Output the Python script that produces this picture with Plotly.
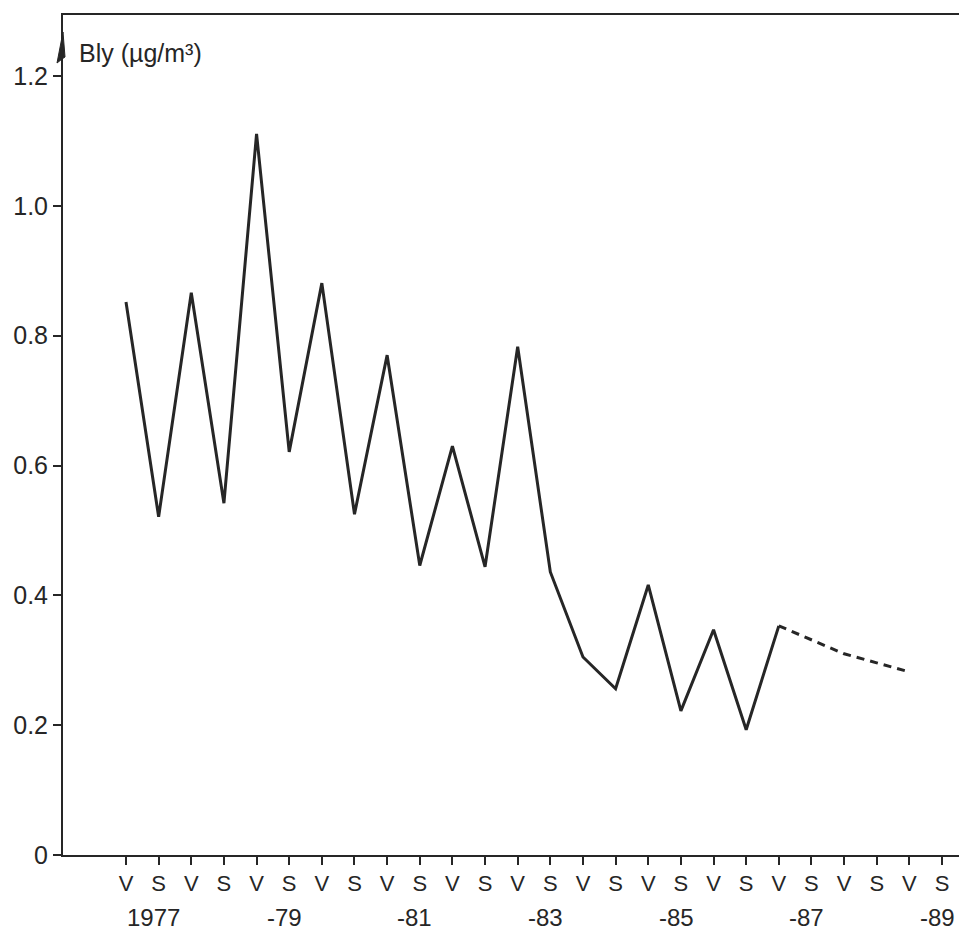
import plotly.graph_objects as go

# Half-year seasons (V = winter, S = summer), 1977-1989
years = list(range(1977, 1990))
season_labels = ["V", "S"] * len(years)
year_labels = ["1977", "-79", "-81", "-83", "-85", "-87", "-89"]
year_label_slots = [1, 5, 9, 13, 17, 21, 25]  # slot of the S tick each year label sits under

# Measured lead concentration, V1977 .. V1987
measured = [0.852, 0.521, 0.866, 0.542, 1.111, 0.621, 0.881, 0.525, 0.770, 0.446,
            0.630, 0.444, 0.783, 0.436, 0.305, 0.256, 0.416, 0.222, 0.347, 0.193,
            0.353]
# Projected values, V1987 .. V1989
projected = [0.353, 0.332, 0.310, 0.296, 0.282]

y_ticks = [0, 0.2, 0.4, 0.6, 0.8, 1.0, 1.2]
y_tick_text = ["0", "0.2", "0.4", "0.6", "0.8", "1.0", "1.2"]
y_max = 1.294

slots = list(range(len(season_labels)))
meas_x = slots[:len(measured)]
proj_x = slots[len(measured) - 1:len(measured) - 1 + len(projected)]

ink = "#262626"
font_family = "Liberation Sans, Arial, sans-serif"

fig = go.Figure()
fig.add_trace(go.Scatter(x=meas_x, y=measured, mode="lines",
                         line=dict(color=ink, width=3), showlegend=False))
fig.add_trace(go.Scatter(x=proj_x, y=projected, mode="lines",
                         line=dict(color=ink, width=3, dash="8px,6px"), showlegend=False))

fig.update_layout(
    width=959, height=934,
    margin=dict(l=63, r=0, t=15, b=79),
    paper_bgcolor="white", plot_bgcolor="white",
    font=dict(family=font_family, color=ink),
)

fig.update_xaxes(
    range=[-1.93, 25.52],
    tickmode="array", tickvals=slots, ticktext=season_labels,
    ticks="outside", ticklen=8, tickwidth=2, tickcolor=ink,
    tickfont=dict(size=22, color=ink),
    showline=True, linecolor=ink, linewidth=2, mirror=True,
    showgrid=False, zeroline=False,
)
fig.update_yaxes(
    range=[0, y_max],
    tickmode="array", tickvals=y_ticks, ticktext=y_tick_text,
    ticks="outside", ticklen=8, tickwidth=2, tickcolor=ink,
    tickfont=dict(size=25, color=ink),
    showline=True, linecolor=ink, linewidth=2,
    showgrid=False, zeroline=False,
)

# Year labels beneath the season ticks
for slot, txt in zip(year_label_slots, year_labels):
    fig.add_annotation(x=slot - 0.15, y=-0.074, xref="x", yref="paper", text=txt,
                       showarrow=False, xanchor="center", yanchor="middle",
                       font=dict(size=24, color=ink))

# Axis title in the top-left corner
fig.add_annotation(x=0.016, y=0.955, xref="paper", yref="paper",
                   text="Bly (µg/m³)", showarrow=False,
                   xanchor="left", yanchor="middle",
                   font=dict(size=25, color=ink))

# Arrowhead on the top of the y axis
fig.add_shape(type="path", xref="paper", yref="paper",
              xsizemode="pixel", ysizemode="pixel",
              xanchor=0, yanchor=1.2 / y_max,
              path="M 0 44 L -6 13 L -1 17 L 2 19 Z",
              fillcolor=ink, line=dict(color=ink, width=1), layer="above")

fig.write_html("out.html")
